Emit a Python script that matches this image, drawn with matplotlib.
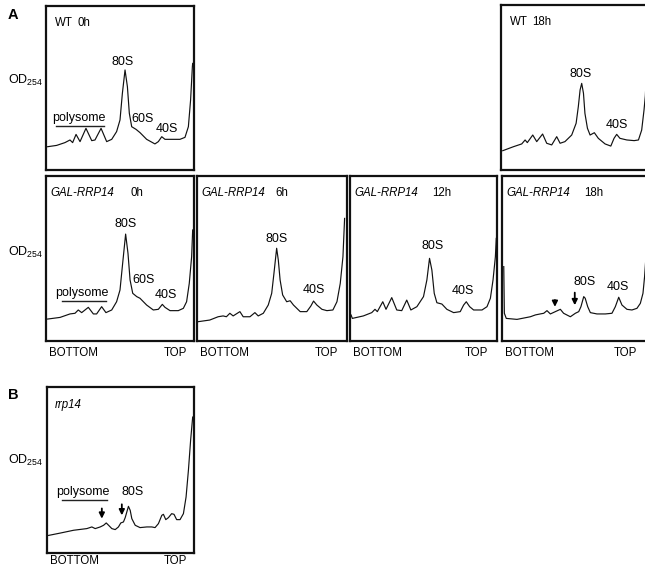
import matplotlib
matplotlib.use("Agg")
import matplotlib.pyplot as plt

plt.rcParams['font.family'] = ['Liberation Sans', 'DejaVu Sans']
plt.rcParams['mathtext.default'] = 'regular'

# gradient position (% from BOTTOM to TOP) and OD254 (arbitrary units, 0-100)
wt0_x = [1.1, 7.2, 12.8, 16.2, 18.0, 20.3, 23.0, 27.0, 30.9, 33.1, 37.2, 41.0, 44.4, 47.7, 50.0,
         51.6, 53.4, 55.0, 56.3, 57.9, 60.8, 63.5, 68.0, 73.6, 75.9, 78.2, 80.4, 83.8, 90.5, 93.9,
         96.2, 97.7, 98.9, 99.1]
wt0_y = [14.2, 15.0, 16.7, 18.3, 16.7, 21.7, 17.3, 25.4, 17.9, 18.3, 25.4, 17.3, 18.7, 23.4, 30.5,
         46.7, 61.0, 50.8, 34.6, 26.4, 24.8, 22.8, 18.7, 15.9, 17.3, 20.3, 18.7, 18.7, 18.7, 19.9,
         26.4, 42.7, 63.0, 65.0]

wt18_x = [1.2, 8.4, 14.1, 16.4, 17.9, 21.6, 24.3, 28.3, 31.1, 34.5, 37.9, 40.2, 43.5, 48.1, 51.1,
          52.6, 53.8, 54.9, 56.1, 57.1, 58.8, 60.6, 63.5, 66.2, 70.8, 74.7, 76.9, 78.7, 80.9, 85.6,
          90.6, 93.5, 95.7, 97.3, 98.2, 99.0]
wt18_y = [11.7, 14.1, 15.8, 18.2, 16.6, 21.2, 17.2, 21.8, 16.2, 15.2, 20.2, 16.2, 17.2, 21.2, 28.3,
          38.4, 48.5, 52.5, 46.5, 34.3, 25.3, 21.2, 22.6, 19.2, 15.8, 14.5, 19.2, 21.6, 19.2, 18.2,
          17.8, 18.2, 24.2, 36.4, 45.0, 60.0]

gal0_x = [1.1, 9.5, 16.2, 19.6, 21.8, 24.1, 28.6, 32.0, 34.2, 37.6, 40.5, 44.4, 47.7, 50.0, 51.8,
          53.8, 55.4, 56.8, 58.6, 61.3, 63.5, 68.0, 72.5, 75.9, 78.6, 80.4, 83.8, 89.4, 92.8, 95.0,
          96.8, 98.4, 99.1]
gal0_y = [13.3, 14.3, 16.4, 16.8, 18.8, 17.2, 20.4, 16.4, 16.4, 20.8, 17.2, 18.8, 23.8, 30.9, 47.1,
          64.8, 53.1, 37.0, 28.9, 26.9, 25.9, 21.8, 18.8, 19.2, 22.2, 20.4, 18.4, 18.4, 19.8, 23.8,
          34.9, 51.1, 67.3]

gal6_x = [0.7, 8.5, 14.1, 17.4, 19.6, 21.9, 24.1, 28.6, 30.8, 35.3, 38.6, 40.8, 44.2, 47.5, 49.8,
          51.3, 53.1, 54.2, 55.4, 57.1, 59.8, 62.1, 64.3, 68.8, 73.2, 75.9, 77.7, 79.9, 83.3, 86.6,
          90.6, 93.3, 95.5, 97.3, 98.4]
gal6_y = [11.7, 12.7, 14.7, 15.2, 14.7, 16.8, 15.2, 17.8, 14.7, 14.7, 17.2, 15.2, 16.8, 21.8, 28.9,
          41.0, 56.2, 49.1, 37.0, 27.9, 23.8, 24.4, 21.8, 17.8, 17.8, 21.2, 24.2, 21.8, 19.2, 18.4,
          18.8, 23.8, 34.9, 51.1, 74.3]

gal12_x = [0.7, 1.6, 9.1, 14.8, 17.0, 18.6, 22.3, 24.5, 28.4, 31.8, 35.2, 38.6, 41.4, 45.5, 50.0,
           52.3, 54.1, 55.7, 57.3, 59.1, 62.5, 65.9, 70.5, 75.0, 77.3, 79.1, 81.4, 84.1, 89.8, 93.2,
           95.5, 97.3, 98.9, 99.5]
gal12_y = [15.8, 13.7, 15.2, 17.2, 19.2, 17.8, 23.8, 19.2, 26.3, 18.8, 18.4, 24.8, 18.8, 20.8, 26.9,
           37.0, 50.1, 43.0, 28.9, 23.2, 22.4, 19.2, 17.2, 17.8, 21.8, 23.8, 20.8, 18.8, 18.8, 20.8,
           25.9, 37.0, 51.1, 62.2]

gal18_x = [1.2, 1.6, 2.9, 10.2, 19.3, 22.7, 26.0, 28.4, 30.6, 32.9, 36.3, 39.7, 41.9, 46.5, 49.9,
           52.2, 53.7, 55.6, 56.6, 58.3, 60.1, 64.6, 70.3, 74.8, 77.1, 79.4, 81.6, 85.0, 88.4, 91.8,
           94.1, 95.9, 97.0, 98.0]
gal18_y = [45.1, 16.8, 13.7, 13.1, 14.7, 15.8, 16.4, 16.8, 18.4, 16.4, 17.8, 19.2, 16.8, 14.7, 16.8,
           17.8, 20.8, 26.9, 25.9, 20.8, 17.2, 16.4, 16.4, 16.8, 20.8, 26.5, 21.8, 19.2, 18.8, 19.8,
           22.8, 28.9, 39.0, 52.0]

rrp14_x = [1.1, 9.0, 18.1, 27.1, 30.5, 32.8, 36.2, 38.5, 40.3, 41.9, 44.1, 46.4, 48.6, 50.2, 52.0,
           53.2, 54.3, 55.4, 56.6, 57.7, 60.0, 63.3, 67.9, 71.3, 73.5, 75.8, 78.1, 79.2, 80.8, 82.6,
           84.8, 86.4, 88.2, 90.5, 92.8, 94.6, 96.2, 97.7, 99.1]
rrp14_y = [10.6, 12.0, 13.7, 14.7, 15.7, 14.7, 15.7, 16.7, 18.1, 16.7, 14.7, 14.1, 15.7, 18.1, 18.7,
           21.3, 24.7, 28.1, 25.7, 20.7, 16.7, 15.3, 15.7, 15.7, 15.3, 17.7, 22.7, 23.3, 20.1, 21.3,
           23.7, 23.3, 20.1, 20.1, 23.7, 33.7, 49.8, 67.9, 81.9]

W, H = 645, 569
fig = plt.figure(figsize=(W / 100, H / 100), dpi=100)
fs = 9.0    # peak labels
fs_t = 8.3  # panel titles, BOTTOM / TOP


def panel(l, t, r, b):
    ax = fig.add_axes([l / W, 1 - b / H, (r - l) / W, (b - t) / H])
    ax.set_xlim(0, 100)
    ax.set_ylim(0, 100)
    ax.set_xticks([])
    ax.set_yticks([])
    for s in ax.spines.values():
        s.set_linewidth(1.6)
        s.set_color('#111111')
    return ax


def title(ax, name, t, xt, italic=True, x0=3):
    ax.text(x0, 89.5, name, fontsize=fs_t, style='italic' if italic else 'normal', va='center')
    ax.text(xt, 89.5, t, fontsize=fs_t, va='center')


def lbl(ax, x, y, s):
    ax.text(x, y, s, fontsize=fs, ha='center', va='center')


def arrow(ax, x, y0, y1):
    ax.annotate('', xy=(x, y1), xytext=(x, y0),
                arrowprops=dict(arrowstyle='-|>', color='black', lw=1.3, mutation_scale=8))


def bottom_top(ax, xt=0.95, yt=-0.07):
    ax.text(0.02, yt, 'BOTTOM', transform=ax.transAxes, fontsize=fs_t, va='center')
    ax.text(xt, yt, 'TOP', transform=ax.transAxes, fontsize=fs_t, va='center', ha='right')


def polysome(ax, y, x0, x1):
    lbl(ax, (x0 + x1) / 2 - 1, y + 5, 'polysome')
    ax.plot([x0, x1], [y, y], color='#222222', lw=1.0)


lw = 0.85
c = '#111111'

ax = panel(46, 6, 194, 170)
ax.plot(wt0_x, wt0_y, color=c, lw=lw)
title(ax, 'WT', '0h', 21.6, italic=False, x0=6)
lbl(ax, 52, 66, '80S')
polysome(ax, 27, 7, 39)
lbl(ax, 65, 31, '60S')
lbl(ax, 81.5, 25, '40S')

ax = panel(501, 5, 648, 170)
ax.plot(wt18_x, wt18_y, color=c, lw=lw)
title(ax, 'WT', '18h', 21, italic=False, x0=6)
lbl(ax, 54, 58, '80S')
lbl(ax, 79, 27, '40S')

ax = panel(46, 176, 194, 341)
ax.plot(gal0_x, gal0_y, color=c, lw=lw)
title(ax, 'GAL-RRP14', '0h', 57)
lbl(ax, 54, 71, '80S')
polysome(ax, 24, 10.6, 40.5)
lbl(ax, 66, 37, '60S')
lbl(ax, 81, 28, '40S')
bottom_top(ax)

ax = panel(197, 176, 347, 341)
ax.plot(gal6_x, gal6_y, color=c, lw=lw)
title(ax, 'GAL-RRP14', '6h', 52)
lbl(ax, 53, 62, '80S')
lbl(ax, 78, 31, '40S')
bottom_top(ax, 0.94)

ax = panel(350, 176, 497, 341)
ax.plot(gal12_x, gal12_y, color=c, lw=lw)
title(ax, 'GAL-RRP14', '12h', 56)
lbl(ax, 56, 57.6, '80S')
lbl(ax, 77, 30.5, '40S')
bottom_top(ax, 0.94)

ax = panel(502, 176, 649, 341)
ax.plot(gal18_x, gal18_y, color=c, lw=lw)
title(ax, 'GAL-RRP14', '18h', 56)
lbl(ax, 56, 36, '80S')
lbl(ax, 79, 33, '40S')
arrow(ax, 36, 26.5, 19.0)
arrow(ax, 49.5, 31, 20.0)
bottom_top(ax, 0.92)

ax = panel(47, 387, 194, 553)
ax.plot(rrp14_x, rrp14_y, color=c, lw=lw)
ax.text(5, 89, 'rrp14', fontsize=fs_t, style='italic', va='center')
polysome(ax, 32, 10, 40.7)
lbl(ax, 58.4, 37, '80S')
arrow(ax, 37.3, 28.5, 19.0)
arrow(ax, 50.9, 31, 21.0)
bottom_top(ax, yt=-0.05)

for y in (80, 252, 460):
    fig.text(8 / W, 1 - y / H, r'OD$_{254}$', fontsize=9.0, va='center')

fig.text(8 / W, 1 - 15 / H, 'A', fontsize=10.5, weight='bold', va='center')
fig.text(8 / W, 1 - 395 / H, 'B', fontsize=10.5, weight='bold', va='center')

fig.savefig('out.png', dpi=100)
